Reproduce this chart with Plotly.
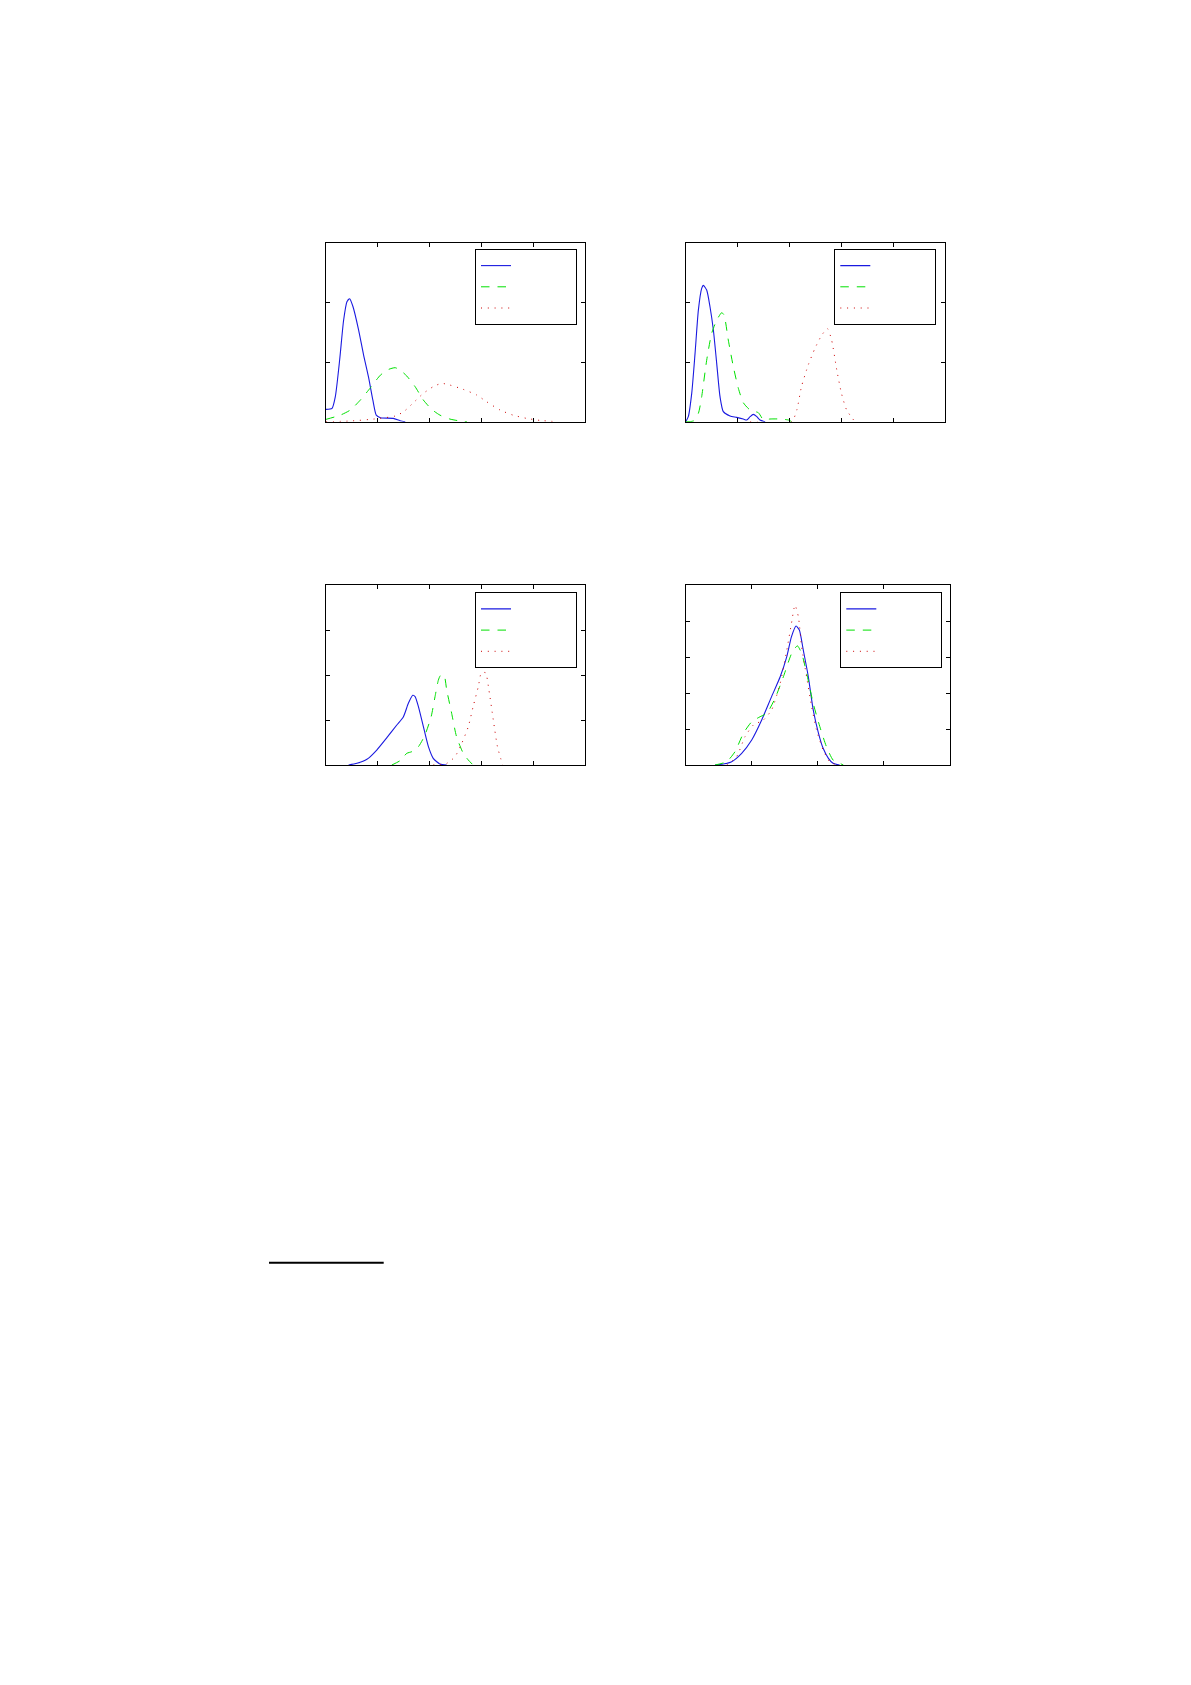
import plotly.graph_objects as go

# page body has an 8px margin, so the figure is drawn 8px in from the corner
OFF = 8
W, H = 1191 - 2 * OFF, 1685 - 2 * OFF

# ---- panel 1 (top left) ----
p1_blue_x = [0, 0.116, 0.18, 0.263, 0.34, 0.404, 0.456, 0.52, 0.629, 0.725, 0.82, 0.905, 0.97, 1.05, 1.30, 1.43, 1.53]
p1_blue_y = [0.207, 0.223, 0.42, 1.03, 1.70, 2.01, 2.06, 1.93, 1.54, 1.12, 0.75, 0.36, 0.11, 0.067, 0.056, 0.017, 0]
p1_green_x = [0, 0.276, 0.47, 0.66, 0.85, 1.05, 1.21, 1.335, 1.43, 1.56, 1.72, 1.88, 2.04, 2.20, 2.39, 2.59, 2.72]
p1_green_y = [0.039, 0.11, 0.196, 0.36, 0.56, 0.78, 0.877, 0.905, 0.866, 0.765, 0.587, 0.363, 0.207, 0.11, 0.045, 0.011, 0]
p1_red_x = [0, 0.47, 0.98, 1.335, 1.5, 1.69, 1.88, 2.07, 2.23, 2.39, 2.65, 2.91, 3.1, 3.36, 3.61, 3.87, 4.13, 4.45]
p1_red_y = [0, 0.011, 0.05, 0.095, 0.168, 0.32, 0.475, 0.587, 0.642, 0.615, 0.542, 0.447, 0.335, 0.196, 0.11, 0.056, 0.022, 0]

# ---- panel 2 (top right) ----
p2_blue_x = [0, 0.05, 0.116, 0.18, 0.244, 0.308, 0.34, 0.404, 0.468, 0.533, 0.597, 0.661, 0.725, 0.854, 0.982, 1.11, 1.175, 1.24, 1.30, 1.37, 1.43, 1.53]
p2_blue_y = [0, 0.084, 0.475, 1.145, 1.87, 2.235, 2.285, 2.207, 1.927, 1.536, 0.978, 0.419, 0.168, 0.095, 0.073, 0.045, 0.028, 0.084, 0.123, 0.084, 0.028, 0]
p2_green_x = [0, 0.148, 0.244, 0.308, 0.404, 0.5, 0.597, 0.693, 0.738, 0.82, 0.918, 1.014, 1.11, 1.24, 1.40, 1.5, 1.62, 1.82, 1.98, 2.04]
p2_green_y = [0, 0.011, 0.14, 0.42, 1.03, 1.48, 1.70, 1.827, 1.79, 1.37, 0.92, 0.56, 0.318, 0.196, 0.15, 0.028, 0.045, 0.045, 0.028, 0]
p2_red_x = [1.24, 2.04, 2.14, 2.23, 2.36, 2.49, 2.62, 2.73, 2.81, 2.91, 3.0, 3.1, 3.26]
p2_red_y = [0, 0, 0.196, 0.587, 0.95, 1.23, 1.45, 1.56, 1.37, 0.866, 0.475, 0.196, 0]

# ---- panel 3 (bottom left) ----
p3_blue_x = [0.436, 0.597, 0.79, 0.98, 1.175, 1.367, 1.495, 1.59, 1.675, 1.72, 1.784, 1.88, 1.977, 2.07, 2.20, 2.33]
p3_blue_y = [0, 0.037, 0.126, 0.333, 0.607, 0.889, 1.074, 1.37, 1.548, 1.52, 1.296, 0.852, 0.407, 0.148, 0.022, 0]
p3_green_x = [1.27, 1.43, 1.56, 1.656, 1.784, 1.91, 2.03, 2.105, 2.17, 2.21, 2.28, 2.33, 2.426, 2.52, 2.65, 2.747, 2.84]
p3_green_y = [0, 0.096, 0.26, 0.296, 0.407, 0.667, 1.074, 1.52, 1.89, 1.99, 1.99, 1.667, 1.148, 0.63, 0.26, 0.111, 0]
p3_red_x = [2.07, 2.33, 2.49, 2.62, 2.747, 2.84, 2.94, 3.0, 3.08, 3.145, 3.23, 3.31, 3.41]
p3_red_y = [0, 0.037, 0.185, 0.48, 0.852, 1.296, 1.74, 2.05, 2.05, 1.667, 1.0, 0.407, 0]

# ---- panel 4 (bottom right) ----
p4_blue_x = [0.444, 0.57, 0.696, 0.847, 0.999, 1.15, 1.30, 1.43, 1.53, 1.60, 1.67, 1.72, 1.78, 1.856, 1.93, 2.01, 2.08, 2.16, 2.23, 2.33]
p4_blue_y = [0, 0.028, 0.093, 0.324, 0.694, 1.25, 1.90, 2.45, 3.01, 3.56, 3.86, 3.75, 3.19, 2.45, 1.53, 0.88, 0.463, 0.185, 0.046, 0]
p4_green_x = [0.444, 0.62, 0.746, 0.873, 0.999, 1.125, 1.226, 1.352, 1.478, 1.604, 1.69, 1.755, 1.83, 1.93, 2.03, 2.13, 2.23, 2.31, 2.386]
p4_green_y = [0, 0.093, 0.37, 0.88, 1.2, 1.34, 1.435, 1.85, 2.45, 3.10, 3.31, 3.10, 2.55, 1.71, 1.065, 0.51, 0.139, 0.065, 0]
p4_red_x = [0.62, 0.77, 0.898, 1.024, 1.175, 1.30, 1.43, 1.53, 1.60, 1.654, 1.705, 1.755, 1.83, 1.906, 1.98, 2.08, 2.18, 2.28]
p4_red_y = [0, 0.23, 0.787, 1.11, 1.25, 1.53, 2.27, 3.19, 3.93, 4.44, 4.12, 3.28, 2.45, 1.62, 0.97, 0.417, 0.093, 0]

panels = [
    (p1_blue_x, p1_blue_y, p1_green_x, p1_green_y, p1_red_x, p1_red_y),
    (p2_blue_x, p2_blue_y, p2_green_x, p2_green_y, p2_red_x, p2_red_y),
    (p3_blue_x, p3_blue_y, p3_green_x, p3_green_y, p3_red_x, p3_red_y),
    (p4_blue_x, p4_blue_y, p4_green_x, p4_green_y, p4_red_x, p4_red_y),
]
x_ranges = [[0, 5], [0, 5], [0, 5], [0, 4]]
y_ranges = [[0, 3], [0, 3], [0, 4], [0, 5]]

# page-pixel boxes of the axes (left, right, top, bottom)
boxes = [(326, 585, 242.7, 421.7), (685.7, 945.3, 242.7, 421.7),
         (326, 585, 585, 765), (685.7, 950, 585, 765)]
legend_pos = [(475, 249), (834.3, 249), (475, 592.3), (840.3, 592.3)]


def px(x):
    return (x - OFF) / W


def py(y):
    return 1 - (y - OFF) / H


styles = [dict(color="#1a1ae0", width=1.1, dash="solid", shape="spline", smoothing=0.6),
          dict(color="#00e000", width=1, dash="8.5px,8px", shape="spline", smoothing=0.6),
          dict(color="#cc0000", width=1, dash="1px,5.8px", shape="spline", smoothing=0.6)]
pad = "\u00a0" * 14

fig = go.Figure()
layout = {}
for i, (bx, by, gx, gy, rx, ry) in enumerate(panels):
    n = "" if i == 0 else str(i + 1)
    leg = "legend" + n
    for (xs, ys), st in zip([(bx, by), (gx, gy), (rx, ry)], styles):
        fig.add_trace(go.Scatter(x=xs, y=ys, mode="lines", line=st, name=pad,
                                 xaxis="x" + n, yaxis="y" + n, legend=leg))
    l, r, t, b = boxes[i]
    axis_common = dict(showline=True, linecolor="black", linewidth=1, mirror="ticks",
                       ticks="inside", ticklen=4, tickcolor="black", showticklabels=False,
                       showgrid=False, zeroline=False, dtick=1)
    layout["xaxis" + n] = dict(axis_common, domain=[px(l), px(r)], range=x_ranges[i],
                               anchor="y" + n)
    layout["yaxis" + n] = dict(axis_common, domain=[py(b), py(t)], range=y_ranges[i],
                               anchor="x" + n)
    lx, ly = legend_pos[i]
    layout[leg] = dict(x=px(lx), y=py(ly), xanchor="left", yanchor="top",
                       bordercolor="black", borderwidth=1, bgcolor="white",
                       font=dict(size=14, family="Liberation Sans"),
                       tracegroupgap=0)

fig.update_layout(**layout)
fig.update_layout(width=W, height=H, margin=dict(l=0, r=0, t=0, b=0),
                  paper_bgcolor="white", plot_bgcolor="white", showlegend=True)

# footnote rule
fig.add_shape(type="line", xref="paper", yref="paper", x0=px(269), x1=px(383.7),
              y0=py(1262.7), y1=py(1262.7), line=dict(color="black", width=2))

fig.write_html("out.html")
